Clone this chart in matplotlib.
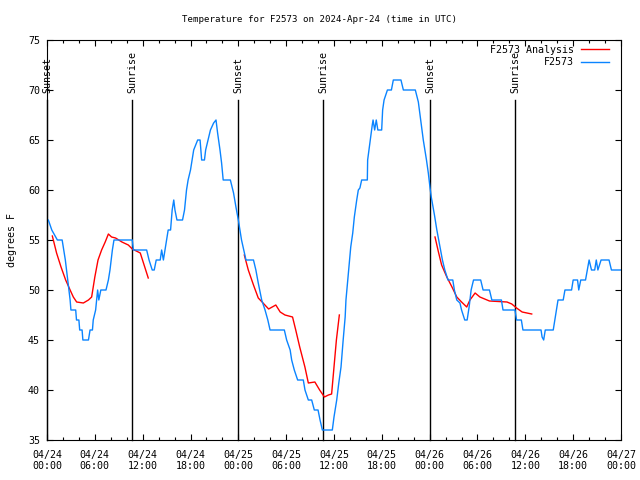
import numpy as np
import matplotlib
matplotlib.use("Agg")
import matplotlib.pyplot as plt

plt.rcParams["font.family"] = ["DejaVu Sans Mono"]
plt.rcParams["font.size"] = 7.2

# hours since 2024-04-24 00:00 UTC
blue_h = [0.0, 0.17, 0.6, 1.3, 1.9, 2.1, 2.3, 2.45, 2.6, 2.75, 2.9, 3.0, 3.6, 3.7, 4.0, 4.1,
          4.4, 4.5, 5.2, 5.4, 5.7, 5.8, 6.1, 6.35, 6.5, 6.75, 7.4, 7.7, 7.9, 8.2, 8.4, 10.7,
          10.83, 12.5, 12.8, 13.2, 13.45, 13.7, 14.2, 14.38, 14.6, 14.8, 15.0, 15.2, 15.5, 15.7,
          15.9, 16.05, 16.3, 17.0, 17.25, 17.5, 17.7, 18.0, 18.2, 18.4, 18.9, 19.2, 19.4, 19.75,
          19.9, 20.2, 20.5, 20.9, 21.2, 21.4, 21.7, 21.9, 22.1, 23.0, 23.4, 23.7, 24.0, 24.4,
          24.96, 25.9, 26.2, 26.5, 26.93, 27.35, 27.7, 27.98, 29.77, 30.06, 30.5, 30.69, 31.02,
          31.44, 32.15, 32.36, 32.78, 33.2, 33.53, 34.0, 34.25, 34.54, 35.79, 36.0, 36.34, 36.6,
          36.88, 37.15, 37.4, 37.5, 37.8, 38.1, 38.35, 38.55, 38.85, 39.05, 39.25, 39.47, 40.18,
          40.22, 40.43, 40.6, 40.8, 40.9, 41.1, 41.3, 41.5, 41.98, 42.1, 42.28, 42.7, 43.2, 43.44,
          44.4, 44.7, 46.2, 46.58, 46.87, 47.2, 47.6, 47.83, 48.05, 48.2, 48.6, 48.9, 49.3, 49.6,
          49.9, 50.3, 50.9, 51.1, 51.4, 51.8, 52.0, 52.4, 52.7, 52.95, 53.2, 53.5, 54.4, 54.7,
          55.5, 55.8, 57.0, 57.2, 58.7, 58.9, 59.5, 59.7, 61.97, 62.1, 62.3, 62.5, 63.5, 63.7,
          63.9, 64.1, 64.75, 64.97, 65.8, 66.0, 66.55, 66.7, 66.95, 67.55, 67.77, 68.0, 68.3,
          68.7, 68.9, 69.1, 69.5, 70.5, 70.8, 72.0]
blue_t = [57, 57, 56, 55, 55, 54, 53, 52, 51, 50, 49, 48, 48, 47, 47, 46,
          46, 45, 45, 46, 46, 47, 48, 50, 49, 50, 50, 51, 52, 54, 55, 55,
          54, 54, 53, 52, 52, 53, 53, 54, 53, 54, 55, 56, 56, 58,
          59, 58, 57, 57, 58, 60, 61, 62, 63, 64, 65, 65, 63, 63,
          64, 65, 66, 66.7, 67, 65.7, 64, 62.7, 61, 61, 59.7, 58.3, 57, 55,
          53, 53, 52, 50.7, 49, 48, 47, 46, 46, 45, 44, 43, 42,
          41, 41, 40, 39, 39, 38, 38, 37, 36, 36, 37.3, 39, 40.7,
          42.3, 45, 47.3, 49, 51.7, 54.3, 55.7, 57.3, 59, 60, 60.2, 61, 61,
          63, 64.3, 65.3, 66.5, 67, 66, 67, 66, 66, 68, 69, 70, 70, 71,
          71, 70, 70, 68.8, 67, 65, 63, 61.7, 60.2, 59.3, 57.5, 56, 54.3, 53,
          52, 51, 51, 50, 49, 48.7, 48, 47, 47, 48.3, 50, 51, 51, 50,
          50, 49, 49, 48, 48, 47, 47, 46, 46, 45.3, 45, 46, 46, 47,
          48, 49, 49, 50, 50, 51, 51, 50, 51, 51, 52, 53, 52,
          52, 53, 52, 53, 53, 52, 52]

red1_h = [0.67, 1.2, 1.76, 2.34, 2.9, 3.3, 3.72, 4.56, 5.2, 5.6, 6.0, 6.4, 6.85, 7.3, 7.7,
          8.1, 8.6, 9.4, 10.2, 10.7, 11.7, 12.1, 12.7]
red1_t = [55.4, 53.7, 52.3, 51, 50, 49.3, 48.8, 48.7, 49, 49.3, 51.3, 53, 54, 54.8, 55.6,
          55.3, 55.2, 54.8, 54.5, 54.1, 53.7, 52.7, 51.2]
red2_h = [24.75, 25.25, 25.9, 26.5, 27.1, 27.8, 28.7, 29.25, 29.85, 30.8, 31.2, 31.7, 32.35,
          32.78, 33.6, 34.2, 34.8, 35.3, 35.7, 36.0, 36.3, 36.67]
red2_t = [53.5, 52, 50.5, 49.2, 48.7, 48.1, 48.5, 47.8, 47.5, 47.3, 46, 44.3, 42.3,
          40.7, 40.8, 40, 39.3, 39.5, 39.6, 42.3, 45, 47.5]
red3_h = [48.67, 49.1, 49.5, 50.15, 50.8, 51.4, 52.0, 52.65, 53.05, 53.7, 54.3, 54.9, 55.5,
          57.7, 58.3, 58.9, 59.6, 60.2, 60.8]
red3_t = [55.3, 53.8, 52.5, 51.3, 50.3, 49.3, 48.8, 48.3, 49, 49.7, 49.3, 49.1, 48.9,
          48.8, 48.6, 48.2, 47.8, 47.7, 47.6]

sun_h = [0.0, 10.66, 23.96, 34.62, 48.04, 58.7]
sun_lbl = ["Sunset", "Sunrise", "Sunset", "Sunrise", "Sunset", "Sunrise"]

xtick_h = np.arange(0, 73, 6)
xtick_lbl = ["04/24\n00:00", "04/24\n06:00", "04/24\n12:00", "04/24\n18:00",
             "04/25\n00:00", "04/25\n06:00", "04/25\n12:00", "04/25\n18:00",
             "04/26\n00:00", "04/26\n06:00", "04/26\n12:00", "04/26\n18:00",
             "04/27\n00:00"]

fig = plt.figure(figsize=(6.4, 4.8), dpi=100)
ax = fig.add_axes([47 / 640, 40 / 480, 574 / 640, 400 / 480])

for h, s in zip(sun_h, sun_lbl):
    ax.plot([h, h], [0, 0.85], color="black", lw=1.0,
            transform=ax.get_xaxis_transform(), clip_on=False)
    ax.text(h, 0.868, s, rotation=90, ha="center", va="bottom",
            transform=ax.get_xaxis_transform(), clip_on=False)

red = "#ff0000"
blue = "#0a84ff"
ax.plot(red1_h, red1_t, color=red, lw=1.0, label="F2573 Analysis")
ax.plot(red2_h, red2_t, color=red, lw=1.0)
ax.plot(red3_h, red3_t, color=red, lw=1.0)
ax.plot(blue_h, blue_t, color=blue, lw=1.0, label="F2573")

ax.set_xlim(0, 72)
ax.set_ylim(35, 75)
ax.set_xticks(xtick_h)
ax.set_xticklabels(xtick_lbl, linespacing=1.1)
ax.set_xticks(np.arange(0, 73, 2), minor=True)
ax.set_yticks(np.arange(35, 76, 5))
ax.tick_params(direction="in", top=True, right=True, length=4, width=0.8)
ax.tick_params(which="minor", direction="in", top=True, length=2, width=0.8)
ax.tick_params(axis="x", pad=7)
ax.tick_params(axis="y", pad=5)

ax.set_ylabel("degrees F", labelpad=8)
fig.text(0.5, 1 - 20 / 480, "Temperature for F2573 on 2024-Apr-24 (time in UTC)",
         ha="center", va="center", fontsize=6.6)

ax.legend(loc="upper right", bbox_to_anchor=(0.984, 0.995), frameon=False,
          markerfirst=False, handlelength=2.8, handletextpad=0.7,
          borderaxespad=0.0, borderpad=0.3, labelspacing=0.25)

fig.savefig("out.png", dpi=100)
